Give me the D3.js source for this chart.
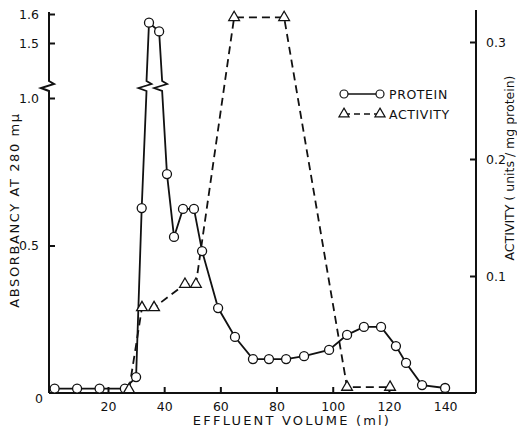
<!DOCTYPE html>
<html>
<head>
<meta charset="utf-8">
<script src="https://cdnjs.cloudflare.com/ajax/libs/d3/7.8.5/d3.min.js"></script>
<style>
  body { margin: 0; background: #fff; }
  svg text { font-family: "DejaVu Sans", sans-serif; fill: #111; }
</style>
</head>
<body>
<script>
// protein elution, absorbancy at 280 mu (left axis, broken above 1.0)
var protein_ml  = [1, 9, 17, 26, 30, 32, 34.6, 38.2, 41, 43.5, 46.7, 50.6, 53.5, 59.2, 65.2, 71.6, 77.3, 83.4, 89.8, 98.7, 105.1, 111.1, 117.2, 122.5, 126.1, 131.8, 140];
var protein_abs = [0.015, 0.015, 0.015, 0.015, 0.054, 0.627, 1.57, 1.54, 0.742, 0.529, 0.624, 0.624, 0.481, 0.288, 0.19, 0.115, 0.115, 0.115, 0.125, 0.146, 0.197, 0.224, 0.224, 0.159, 0.102, 0.027, 0.017];
// activity, units/mg protein (right axis)
var activity_ml  = [27.5, 32.1, 36.4, 47.4, 51.3, 64.9, 82.7, 105.1, 120.4];
var activity_val = [0.003, 0.073, 0.073, 0.093, 0.093, 0.321, 0.321, 0.005, 0.005];

var x_ticks = [20, 40, 60, 80, 100, 120, 140];
var abs_ticks_low = [0, 0.5, 1.0];
var abs_ticks_high = [1.5, 1.6];
var act_ticks = [0.1, 0.2, 0.3];
var legend_labels = ["PROTEIN", "ACTIVITY"];

var W = 517, H = 430;
var x_left = 49, x_right = 476, y_base = 393;
var y_break = 86;

var svg = d3.select("body").append("svg")
  .attr("width", W).attr("height", H);

// scales
var x = d3.scaleLinear().domain([-1, 151]).range([x_left, x_right]);
var yLow = d3.scaleLinear().domain([0, 1]).range([y_base, 98]);
var yHigh = d3.scaleLinear().domain([1.5, 1.6]).range([43, 14]);
var yAct = d3.scaleLinear().domain([0, 0.3]).range([y_base, 42]);
var yAbs = function(v) { return v > 1.2 ? yHigh(v) : yLow(v); };

// little lightning shaped break mark
var zig = function(p, xb, yb) {
  p.lineTo(xb, yb + 5);
  p.lineTo(xb - 8, yb + 2);
  p.lineTo(xb + 5, yb - 2);
  p.lineTo(xb, yb - 5);
};

// left axis line with the break
var ap = d3.path();
ap.moveTo(x_left, y_base);
zig(ap, x_left, y_break);
ap.lineTo(x_left, 12);
svg.append("path").attr("d", ap.toString())
  .attr("fill", "none").attr("stroke", "#111").attr("stroke-width", 2);

// x axis line and right axis line
svg.append("line").attr("x1", x_left).attr("x2", x_right).attr("y1", y_base).attr("y2", y_base)
  .attr("stroke", "#111").attr("stroke-width", 2);
svg.append("line").attr("x1", x_right).attr("x2", x_right).attr("y1", y_base).attr("y2", 10)
  .attr("stroke", "#111").attr("stroke-width", 2);

// axes (ticks inside, no domain path)
var gx = svg.append("g").attr("transform", "translate(0," + y_base + ")")
  .call(d3.axisBottom(x).tickValues(x_ticks).tickSize(-6).tickPadding(9));
var gl = svg.append("g").attr("transform", "translate(" + x_left + ",0)")
  .call(d3.axisLeft(yLow).tickValues(abs_ticks_low).tickSize(-6).tickPadding(10)
    .tickFormat(function(d) { return d == 0 ? "0" : d3.format(".1f")(d); }));
var gh = svg.append("g").attr("transform", "translate(" + x_left + ",0)")
  .call(d3.axisLeft(yHigh).tickValues(abs_ticks_high).tickSize(-6).tickPadding(10)
    .tickFormat(d3.format(".1f")));
var gr = svg.append("g").attr("transform", "translate(" + x_right + ",0)")
  .call(d3.axisRight(yAct).tickValues(act_ticks).tickSize(-6).tickPadding(10)
    .tickFormat(d3.format(".1f")));

[gx, gl, gh, gr].forEach(function(g) {
  g.select(".domain").remove();
  g.selectAll(".tick line").attr("stroke", "#111").attr("stroke-width", 2);
  g.selectAll(".tick text").style("font-size", "12.5px").attr("fill", "#111");
});
gl.selectAll(".tick").filter(function(d) { return d == 0; })
  .select("text").attr("dy", "0.75em").attr("x", -6);
gl.selectAll(".tick").filter(function(d) { return d == 0; }).select("line").remove();

// protein line, with a break mark on segments that cross the axis break
var pp = d3.path();
protein_ml.forEach(function(v, i) {
  var px = x(v), py = yAbs(protein_abs[i]);
  if (i == 0) { pp.moveTo(px, py); return; }
  var prev_hi = protein_abs[i - 1] > 1.2, hi = protein_abs[i] > 1.2;
  if (prev_hi != hi) {
    var x0 = x(protein_ml[i - 1]), y0 = yAbs(protein_abs[i - 1]);
    var t = (y0 - y_break) / (y0 - py);
    var xb = x0 + t * (px - x0);
    if (hi) {
      pp.lineTo(xb, y_break + 5);
      zig(pp, xb, y_break);
    } else {
      pp.lineTo(xb, y_break - 5);
      pp.lineTo(xb + 5, y_break - 2);
      pp.lineTo(xb - 8, y_break + 2);
      pp.lineTo(xb, y_break + 5);
    }
  }
  pp.lineTo(px, py);
});
svg.append("path").attr("d", pp.toString())
  .attr("fill", "none").attr("stroke", "#111").attr("stroke-width", 1.8);

// activity dashed line
var actLine = d3.line()
  .x(function(d, i) { return x(activity_ml[i]); })
  .y(function(d, i) { return yAct(activity_val[i]); });
svg.append("path").datum(activity_val).attr("d", actLine)
  .attr("fill", "none").attr("stroke", "#111").attr("stroke-width", 1.8)
  .attr("stroke-dasharray", "8,5");

// markers
svg.selectAll(".pt").data(protein_abs).enter().append("circle")
  .attr("class", "pt")
  .attr("cx", function(d, i) { return x(protein_ml[i]); })
  .attr("cy", function(d) { return yAbs(d); })
  .attr("r", 4.5)
  .attr("fill", "#fff").attr("stroke", "#111").attr("stroke-width", 1.3);

var tri = d3.symbol().type(d3.symbolTriangle).size(50);
svg.selectAll(".tr").data(activity_val).enter().append("path")
  .attr("class", "tr")
  .attr("d", tri)
  .attr("transform", function(d, i) { return "translate(" + x(activity_ml[i]) + "," + yAct(d) + ")"; })
  .attr("fill", "#fff").attr("stroke", "#111").attr("stroke-width", 1.3);

// legend
var lg = svg.append("g");
lg.append("line").attr("x1", 344).attr("x2", 380).attr("y1", 94).attr("y2", 94)
  .attr("stroke", "#111").attr("stroke-width", 1.5);
lg.append("circle").attr("cx", 344).attr("cy", 94).attr("r", 4)
  .attr("fill", "#fff").attr("stroke", "#111").attr("stroke-width", 1.2);
lg.append("circle").attr("cx", 380).attr("cy", 94).attr("r", 4)
  .attr("fill", "#fff").attr("stroke", "#111").attr("stroke-width", 1.2);
lg.append("line").attr("x1", 344).attr("x2", 380).attr("y1", 114).attr("y2", 114)
  .attr("stroke", "#111").attr("stroke-width", 1.5).attr("stroke-dasharray", "6,4");
lg.append("path").attr("d", d3.symbol().type(d3.symbolTriangle).size(45))
  .attr("transform", "translate(344,114)")
  .attr("fill", "#fff").attr("stroke", "#111").attr("stroke-width", 1.2);
lg.append("path").attr("d", d3.symbol().type(d3.symbolTriangle).size(45))
  .attr("transform", "translate(380,114)")
  .attr("fill", "#fff").attr("stroke", "#111").attr("stroke-width", 1.2);
lg.selectAll("text").data(legend_labels).enter().append("text")
  .attr("x", 389).attr("y", function(d, i) { return 99 + i * 20; })
  .style("font-size", "12.5px").style("letter-spacing", "0.6px")
  .text(function(d) { return d; });

// axis titles
svg.append("text")
  .attr("transform", "translate(19,210) rotate(-90)")
  .attr("text-anchor", "middle")
  .style("font-size", "13px").style("letter-spacing", "1.6px")
  .text("ABSORBANCY  AT  280 m\u03bc");
svg.append("text")
  .attr("transform", "translate(514,168) rotate(-90)")
  .attr("text-anchor", "middle")
  .style("font-size", "12.5px")
  .text("ACTIVITY ( units / mg protein)");
svg.append("text")
  .attr("x", 292).attr("y", 425)
  .attr("text-anchor", "middle")
  .style("font-size", "13px").style("letter-spacing", "2.2px")
  .text("EFFLUENT VOLUME (ml)");
</script>
</body>
</html>
